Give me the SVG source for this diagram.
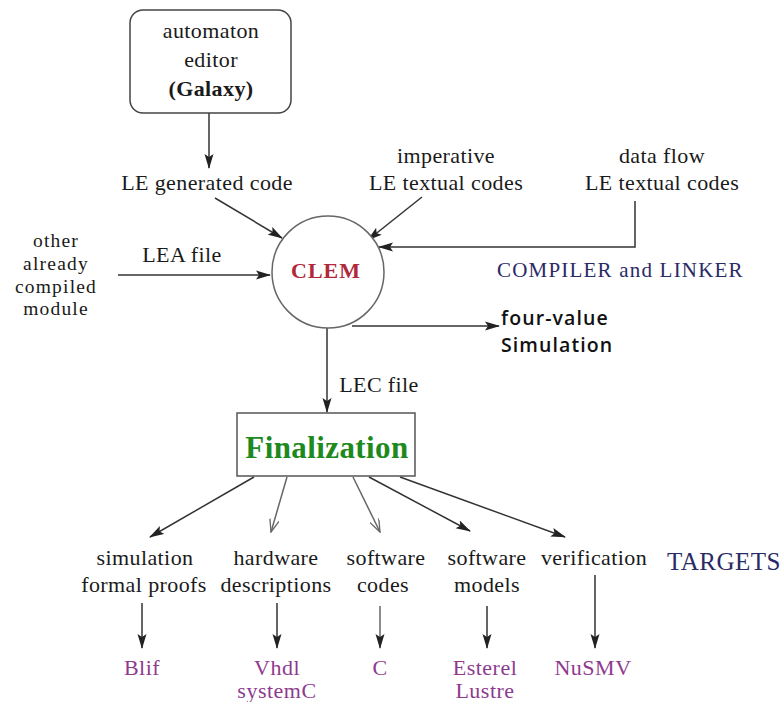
<svg xmlns="http://www.w3.org/2000/svg" width="783" height="702" viewBox="0 0 783 702">
<defs>
<marker id="ah" markerWidth="15" markerHeight="10" refX="14" refY="5" orient="auto" markerUnits="userSpaceOnUse">
<path d="M0,0.5 L15,5 L0,9.5 L3,5 Z" fill="#222"/>
</marker>
<marker id="ao" markerWidth="14" markerHeight="10" refX="13" refY="5" orient="auto" markerUnits="userSpaceOnUse">
<path d="M0,0 L13,5 L0,10" fill="none" stroke="#666" stroke-width="1.3"/>
</marker>
<style>
.t{font-family:"Liberation Serif","Times New Roman",serif;font-size:22px;letter-spacing:0.4px;fill:#1a1a1a;text-anchor:middle}
.o{font-size:19.5px;letter-spacing:1.2px}
.s{font-family:"Open Sans","Noto Sans",sans-serif;font-size:19.5px;letter-spacing:1.1px;font-weight:600;fill:#111}
.nav{font-family:"Liberation Serif",serif;font-size:21px;letter-spacing:1.2px;fill:#2a2a66}
.pur{font-family:"Liberation Serif",serif;font-size:22px;letter-spacing:0.5px;fill:#8e3a8e;text-anchor:middle}
.ln{fill:none;stroke:#333;stroke-width:1.5}
.lg{fill:none;stroke:#666;stroke-width:1.5}
</style>
</defs>
<rect width="783" height="702" fill="#fff"/>

<g id="connectors">
<path class="ln" d="M209,113 V168" marker-end="url(#ah)"/>
<path class="ln" d="M215,198 L282,238" marker-end="url(#ah)"/>
<path class="ln" d="M422,197 L368,240" marker-end="url(#ah)"/>
<path class="ln" d="M635,201 V247 H379" marker-end="url(#ah)"/>
<path class="ln" d="M118,275 H270" marker-end="url(#ah)"/>
<path class="ln" d="M352,326 H499" marker-end="url(#ah)"/>
<path class="ln" d="M327,328 V412" marker-end="url(#ah)"/>
<path class="ln" d="M254,477 L150,537" marker-end="url(#ah)"/>
<path class="lg" d="M287,477 L271,532" marker-end="url(#ao)"/>
<path class="lg" d="M353,477 L380,532" marker-end="url(#ao)"/>
<path class="ln" d="M369,477 L470,531" marker-end="url(#ah)"/>
<path class="ln" d="M400,477 L565,537" marker-end="url(#ah)"/>
<path class="ln" d="M142,603 V648" marker-end="url(#ah)"/>
<path class="ln" d="M277,603 V648" marker-end="url(#ah)"/>
<path class="lg" d="M380,606 V648" marker-end="url(#ah)"/>
<path class="ln" d="M487,606 V648" marker-end="url(#ah)"/>
<path class="ln" d="M595,575 V648" marker-end="url(#ah)"/>
</g>

<g id="editor">
<rect x="130" y="10" width="161" height="103" rx="13" fill="#fff" stroke="#444" stroke-width="1.5"/>
<text class="t" x="211" y="38">automaton</text>
<text class="t" x="211" y="67">editor</text>
<text class="t" x="211" y="96" font-weight="bold">(Galaxy)</text>
</g>

<g id="le-generated"><text class="t" x="207" y="190">LE generated code</text></g>
<g id="imperative">
<text class="t" x="446" y="163">imperative</text>
<text class="t" x="446" y="190">LE textual codes</text>
</g>
<g id="dataflow">
<text class="t" x="662" y="163">data flow</text>
<text class="t" x="662" y="190">LE textual codes</text>
</g>
<g id="other">
<text class="t o" x="56" y="247">other</text>
<text class="t o" x="56" y="270">already</text>
<text class="t o" x="56" y="293">compiled</text>
<text class="t o" x="56" y="315">module</text>
</g>
<g id="lea-label"><text class="t" x="182" y="262">LEA file</text></g>

<g id="clem">
<circle cx="328" cy="272" r="56" fill="#fff" stroke="#666" stroke-width="1.5"/>
<text x="326" y="278" font-family="Liberation Serif,serif" font-size="22" letter-spacing="1" font-weight="bold" fill="#b0283a" text-anchor="middle">CLEM</text>
</g>

<g id="compiler-label"><text class="nav" x="497" y="277">COMPILER and LINKER</text></g>

<g id="four-value">
<text class="s" x="501" y="325">four-value</text>
<text class="s" x="501" y="352">Simulation</text>
</g>

<g id="lec-label"><text class="t" x="379" y="392">LEC file</text></g>

<g id="finalization">
<rect x="237" y="413" width="178" height="63" fill="#fff" stroke="#555" stroke-width="1.5"/>
<text x="327" y="458" font-family="Liberation Serif,serif" font-size="31" letter-spacing="0.4" font-weight="bold" fill="#1e8a1e" text-anchor="middle">Finalization</text>
</g>

<g id="sim">
<text class="t" x="145" y="565">simulation</text>
<text class="t" x="144" y="592">formal proofs</text>
</g>
<g id="hw">
<text class="t" x="276" y="565">hardware</text>
<text class="t" x="276" y="592">descriptions</text>
</g>
<g id="swc">
<text class="t" x="386" y="565">software</text>
<text class="t" x="383" y="592">codes</text>
</g>
<g id="swm">
<text class="t" x="487" y="565">software</text>
<text class="t" x="487" y="592">models</text>
</g>
<g id="verif"><text class="t" x="594" y="565">verification</text></g>
<g id="targets"><text x="667" y="570" font-family="Liberation Serif,serif" font-size="25" letter-spacing="0.5" fill="#2a2a66">TARGETS</text></g>

<g id="blif"><text class="pur" x="142" y="675">Blif</text></g>
<g id="vhdl">
<text class="pur" x="277" y="675">Vhdl</text>
<text class="pur" x="277" y="698">systemC</text>
</g>
<g id="c"><text class="pur" x="380" y="675">C</text></g>
<g id="esterel">
<text class="pur" x="485" y="675">Esterel</text>
<text class="pur" x="485" y="698">Lustre</text>
</g>
<g id="nusmv"><text class="pur" x="593" y="675">NuSMV</text></g>
</svg>
